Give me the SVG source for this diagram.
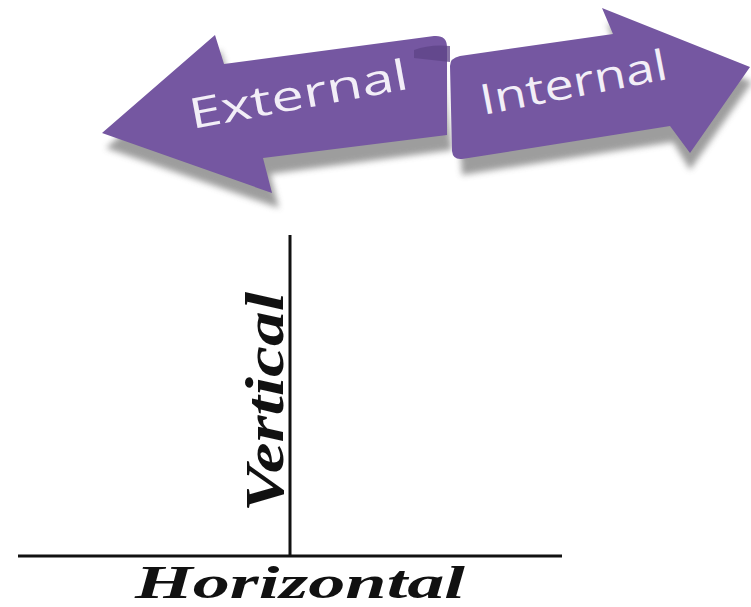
<svg xmlns="http://www.w3.org/2000/svg" width="751" height="607" viewBox="0 0 751 607">
<defs>
<filter id="blur" x="-20%" y="-20%" width="140%" height="140%"><feGaussianBlur stdDeviation="3"/></filter>
<style>
.arrow{fill:#7557a1;}
.shadow{fill:#8c8c8c;opacity:0.85;filter:url(#blur);}
.alabel{font-family:"Open Sans","DejaVu Sans",sans-serif;font-size:42px;fill:#f2eef7;}
.axis{stroke:#111;stroke-width:3;fill:none;}
.tlabel{font-family:"Liberation Serif","DejaVu Serif",serif;font-weight:bold;font-style:italic;fill:#111;}
</style>
</defs>
<g id="shadows">
<path class="shadow" d="M106,148 L220,50 L230,79 L440,54 L452,150 L270,174 L279,208 Z"/>
<path class="shadow" d="M455,72 L617,49 L607,23 L752,82 L690,170 L673,142 L462,175 Z"/>
</g>
<g id="external">
<path class="arrow" d="M102,133 L215,35 L224,64 L434,36 Q447,35 447,47 L447,135 L263,158 L272,193 Z"/>
<text class="alabel" transform="translate(192,129) rotate(-10.5)" textLength="222" lengthAdjust="spacingAndGlyphs">External</text>
</g>
<g id="internal">
<path class="arrow" d="M450,66 Q450,58 460,56 L613,34 L602,8 L750,67 L690,153 L670,126 L462,159 Q453,160 452,151 Z"/>
<path d="M414,50 Q430,44 450,46 L450,62 Q432,60 414,58 Z" fill="#5d4387" opacity="0.75"/>
<text class="alabel" transform="translate(483,115) rotate(-11)" textLength="190" lengthAdjust="spacingAndGlyphs">Internal</text>
</g>
<g id="connectors">
<line class="axis" x1="290" y1="235" x2="290" y2="556"/>
<line class="axis" x1="18" y1="556" x2="562" y2="556"/>
</g>
<g id="vertical">
<text class="tlabel" font-size="54" transform="translate(283,512) rotate(-90)" textLength="220" lengthAdjust="spacingAndGlyphs">Vertical</text>
</g>
<g id="horizontal">
<text class="tlabel" font-size="46" x="135" y="598" textLength="330" lengthAdjust="spacingAndGlyphs">Horizontal</text>
</g>
</svg>
